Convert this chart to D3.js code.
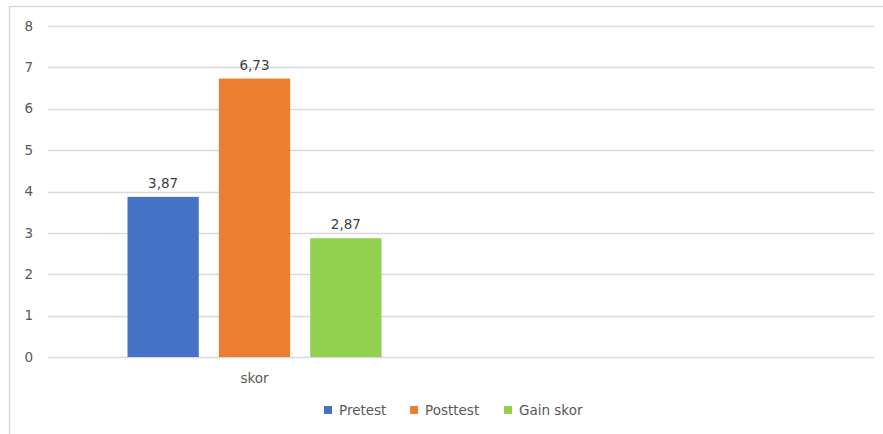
<!DOCTYPE html>
<html>
<head>
<meta charset="utf-8">
<script src="https://cdn.jsdelivr.net/npm/d3@7"></script>
<style>
  body { margin: 0; background: #fff; }
  svg { display: block; font-family: "DejaVu Sans", sans-serif; }
</style>
</head>
<body>
<svg id="chart" width="883" height="434"></svg>
<script>
// chart data
const categories = ['skor', ''];
const seriesNames = ['Pretest', 'Posttest', 'Gain skor'];
const seriesValues = [3.87, 6.73, 2.87];
const seriesColors = ['#4472c4', '#ed7d31', '#92d050'];
const yTicks = [0, 1, 2, 3, 4, 5, 6, 7, 8];

const svg = d3.select('#chart');
const margin = { top: 26, right: 9, bottom: 77, left: 48 };
const width = 883, height = 434;
const fontSize = '13.5px';

// outer chart border (left + top visible)
svg.append('rect')
    .attr('x', 9.5).attr('y', 6.5)
    .attr('width', 900).attr('height', 460)
    .attr('fill', 'none')
    .attr('stroke', '#d9d9d9')
    .attr('stroke-width', 1.5);

const x = d3.scaleBand()
    .domain(categories)
    .range([margin.left, width - margin.right]);

const y = d3.scaleLinear()
    .domain([0, 8])
    .range([height - margin.bottom, margin.top]);

// inner scale for series inside the group
const groupWidth = 254;
const xInner = d3.scaleBand()
    .domain(seriesNames)
    .range([0, groupWidth])
    .paddingInner(0.22);

// gridlines
svg.append('g')
    .selectAll('line')
    .data(yTicks)
    .join('line')
    .attr('x1', margin.left)
    .attr('x2', width - margin.right)
    .attr('y1', d => Math.round(y(d)) + 0.5)
    .attr('y2', d => Math.round(y(d)) + 0.5)
    .attr('stroke', '#d9d9d9')
    .attr('stroke-width', 1.3);

// y tick labels
svg.append('g')
    .selectAll('text')
    .data(yTicks)
    .join('text')
    .attr('x', 33)
    .attr('y', d => y(d))
    .attr('dy', '0.35em')
    .attr('text-anchor', 'end')
    .attr('fill', '#595959')
    .style('font-size', fontSize)
    .text(d => d);

// bars
const groupX = x('skor') + (x.bandwidth() - groupWidth) / 2;
svg.append('g')
    .selectAll('rect')
    .data(seriesValues)
    .join('rect')
    .attr('x', (d, i) => groupX + xInner(seriesNames[i]))
    .attr('y', d => y(d))
    .attr('width', xInner.bandwidth())
    .attr('height', d => y(0) - y(d))
    .attr('fill', (d, i) => seriesColors[i]);

// value labels
svg.append('g')
    .selectAll('text')
    .data(seriesValues)
    .join('text')
    .attr('x', (d, i) => groupX + xInner(seriesNames[i]) + xInner.bandwidth() / 2)
    .attr('y', d => y(d) - 9)
    .attr('text-anchor', 'middle')
    .attr('fill', '#404040')
    .style('font-size', fontSize)
    .text(d => d.toFixed(2).replace('.', ','));

// category label
svg.append('text')
    .attr('x', x('skor') + x.bandwidth() / 2)
    .attr('y', 383)
    .attr('text-anchor', 'middle')
    .attr('fill', '#595959')
    .style('font-size', fontSize)
    .text('skor');

// legend
const legendItems = [
    { name: seriesNames[0], color: seriesColors[0], x: 324 },
    { name: seriesNames[1], color: seriesColors[1], x: 410 },
    { name: seriesNames[2], color: seriesColors[2], x: 504 }
];
const legend = svg.append('g');
legend.selectAll('rect')
    .data(legendItems)
    .join('rect')
    .attr('x', d => d.x)
    .attr('y', 406)
    .attr('width', 8)
    .attr('height', 8)
    .attr('fill', d => d.color);
legend.selectAll('text')
    .data(legendItems)
    .join('text')
    .attr('x', d => d.x + 15)
    .attr('y', 410)
    .attr('dy', '0.35em')
    .attr('fill', '#595959')
    .style('font-size', fontSize)
    .text(d => d.name);
</script>
</body>
</html>
